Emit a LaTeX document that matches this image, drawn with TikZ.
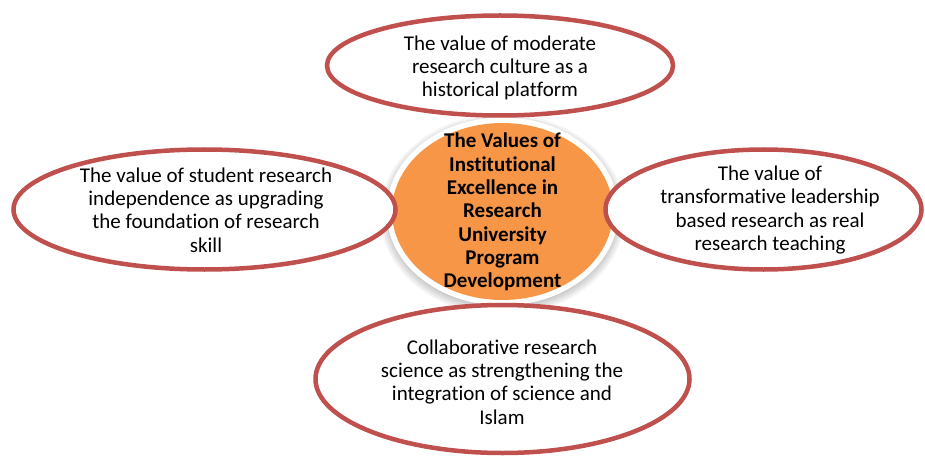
\documentclass[tikz,border=0pt]{standalone}
\usepackage{fontspec}
\setmainfont{Carlito}[Ligatures={NoCommon}]
\usetikzlibrary{shapes.geometric}
\definecolor{ringred}{HTML}{C0504D}
\definecolor{hubfill}{HTML}{F79646}
\begin{document}
\begin{tikzpicture}[x=1pt,y=-1pt,
  every node/.style={font=\fontsize{21}{23.3}\selectfont},
  bubble/.style={ellipse, draw=ringred, line width=4.5pt, fill=white, inner sep=0pt},
  caption/.style={align=center, inner sep=0pt, text=black},
  hub/.style={ellipse, fill=hubfill, inner sep=0pt, minimum width=221pt, minimum height=177pt}]
  \useasboundingbox (0,0) rectangle (925,457);
  \fill[white] (0,0) rectangle (925,457);

  % soft shadow and white rim behind the central disc
  \foreach \r in {12,10,8,6,4}
    \fill[black, opacity=0.045] (502.5,214.5) ellipse ({110.5+\r} and {88.5+\r});
  \fill[white] (502.5,211.5) ellipse (116 and 94);
  \node[hub] (hub) at (502.5,211.5) {};

  % surrounding value bubbles
  \node[bubble, minimum width=346pt, minimum height=100pt] (top) at (500,65.5) {};
  \node[bubble, minimum width=382pt, minimum height=120pt] (left) at (204.5,209.5) {};
  \node[bubble, minimum width=316pt, minimum height=120pt] (right) at (763.5,209.5) {};
  \node[bubble, minimum width=374pt, minimum height=148pt] (bottom) at (502.5,379) {};

  % texts
  \node[caption, font=\fontsize{21}{23.3}\selectfont\bfseries] (hubtext) at (502.5,212)
    {The Values of\\Institutional\\Excellence in\\Research\\University\\Program\\Development};
  \node[caption] (toptext) at (500,68)
    {The value of moderate\\research culture as a\\historical platform};
  \node[caption] (lefttext) at (206,210)
    {The value of student research\\independence as upgrading\\the foundation of research\\skill};
  \node[caption] (righttext) at (770,210)
    {The value of\\transformative leadership\\based research as real\\research teaching};
  \node[caption] (bottomtext) at (502,382)
    {Collaborative research\\science as strengthening the\\integration of science and\\Islam};
\end{tikzpicture}
\end{document}
